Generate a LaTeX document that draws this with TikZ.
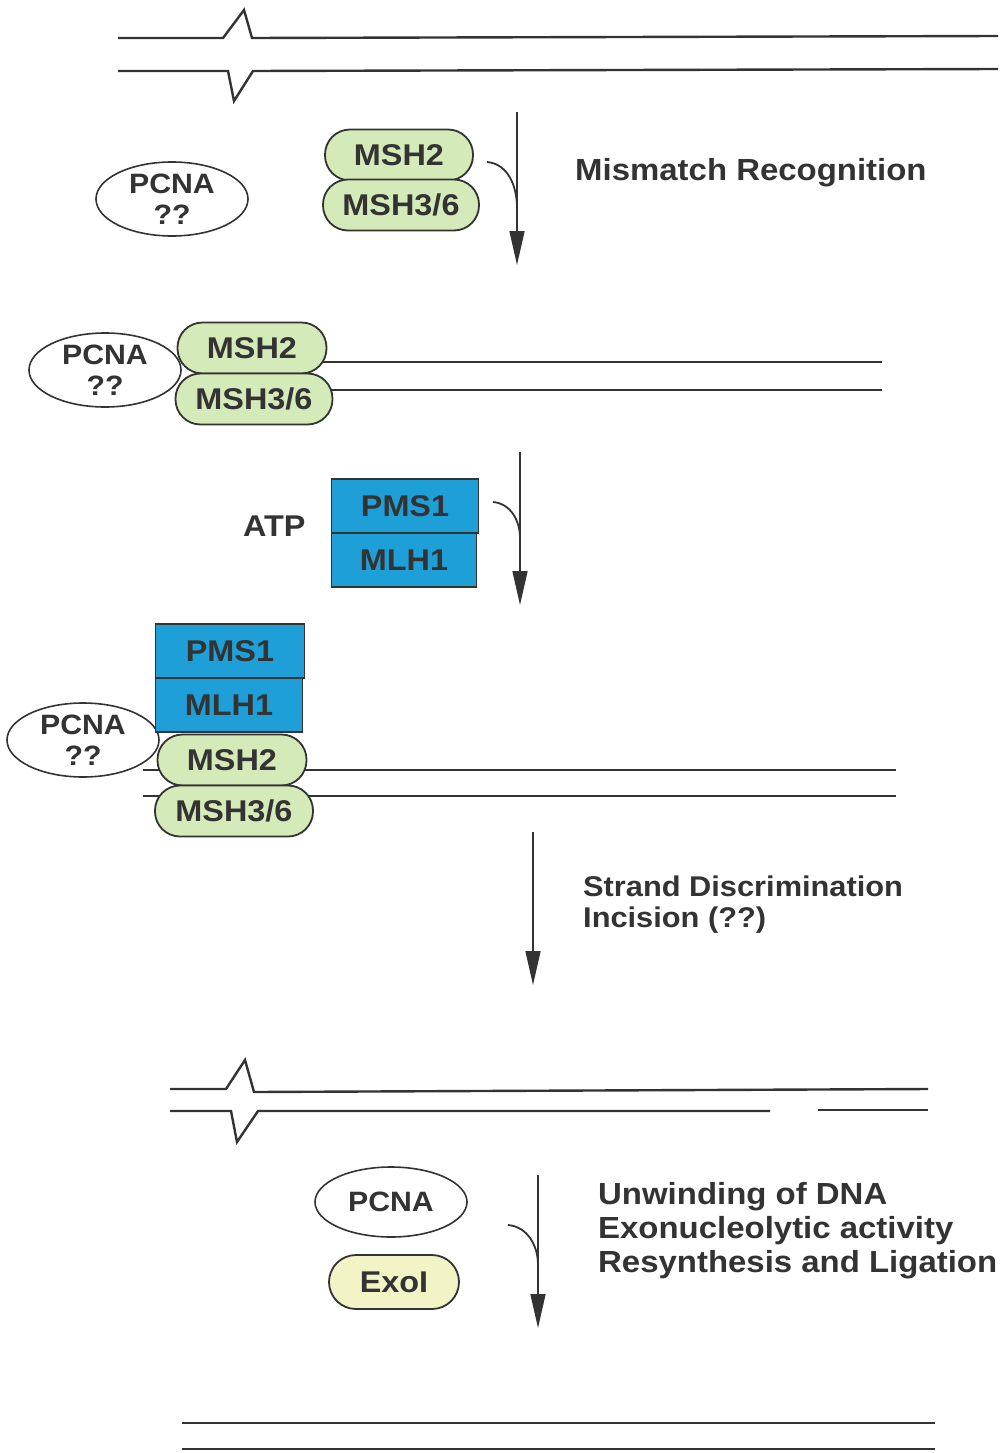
\documentclass[tikz,border=0pt]{standalone}
\usepackage{fontspec}
\setmainfont{Liberation Sans}[FakeStretch=1.08]
\usetikzlibrary{arrows.meta,shapes.geometric}
\definecolor{ink}{HTML}{333333}
\definecolor{mshgreen}{HTML}{D4EAB8}
\definecolor{mlhblue}{HTML}{1E9FD8}
\definecolor{exoyellow}{HTML}{F2F4C6}
\begin{document}
\begin{tikzpicture}[x=1pt,y=-1pt,
  lbl/.style={font=\fontsize{30}{32}\selectfont\bfseries, text=ink},
  capsule/.style={rectangle, draw=ink, line width=1.8pt, fill=mshgreen, rounded corners=25pt, inner sep=0pt, minimum height=51pt, lbl},
  pcna/.style={ellipse, draw=ink, line width=1.6pt, fill=white, inner sep=0pt, minimum width=152pt, minimum height=74pt, text=ink, align=center, font=\fontsize{28}{31}\selectfont\bfseries},
  boxb/.style={rectangle, draw=ink, line width=1.6pt, fill=mlhblue, inner sep=0pt, minimum height=54pt, lbl},
  dna/.style={draw=ink, line width=2.4pt, line join=miter},
  flow/.style={draw=ink, line width=1.6pt, -{Triangle[length=34pt,width=15pt]}},
  feed/.style={draw=ink, line width=1.8pt},
  step text/.style={lbl, anchor=base west, align=left, inner sep=0pt},
]
\useasboundingbox (0,0) rectangle (1005,1453);

% ---- top DNA with mismatch ----
\draw[dna] (118,38) -- (223,38) -- (244,10) -- (252,38) -- (998,36);
\draw[dna] (118,71) -- (228,71) -- (234,101) -- (253,71) -- (998,69);

% ---- step 1 ----
\node[pcna] (pcna1) at (172,199) {PCNA\\??};
\node[capsule, minimum width=148pt] (msh2a) at (399,155) {MSH2};
\node[capsule, minimum width=156pt] (msh36a) at (401,205) {MSH3/6};
\coordinate (a1s) at (517,112);
\coordinate (a1e) at (517,265);
\coordinate (a1m) at (517,208);
\coordinate (f1) at (487,162);
\draw[flow] (a1s) -- (a1e);
\draw[feed] (f1) to[out=-5,in=90] (a1m);
\node[step text, font=\fontsize{30.5}{34}\selectfont\bfseries] (t1) at (575,180) {Mismatch Recognition};

% ---- step 2: bound complex ----
\draw[dna] (300,362) -- (882,362);
\draw[dna] (300,390) -- (882,390);
\node[pcna] (pcna2) at (105,370) {PCNA\\??};
\node[capsule, minimum width=149pt] (msh2b) at (252,348) {MSH2};
\node[capsule, minimum width=157pt] (msh36b) at (254,399) {MSH3/6};

% ---- step 3: ATP + PMS1/MLH1 ----
\node[lbl, anchor=base west, inner sep=0pt] (atp) at (243,536) {ATP};
\node[boxb, minimum width=147pt] (pms1a) at (405,506) {PMS1};
\node[boxb, minimum width=145pt] (mlh1a) at (404,560) {MLH1};
\coordinate (a2s) at (520,452);
\coordinate (a2e) at (520,605);
\coordinate (a2m) at (520,538);
\coordinate (f2) at (493,502);
\draw[flow] (a2s) -- (a2e);
\draw[feed] (f2) to[out=-5,in=90] (a2m);

% ---- step 4: full complex ----
\draw[dna] (143,770) -- (896,770);
\draw[dna] (143,796) -- (896,796);
\node[pcna] (pcna3) at (83,740) {PCNA\\??};
\node[boxb, minimum width=149pt] (pms1b) at (230,651) {PMS1};
\node[boxb, minimum width=147pt] (mlh1b) at (229,705) {MLH1};
\node[capsule, minimum width=149pt] (msh2c) at (232,760) {MSH2};
\node[capsule, minimum width=158pt] (msh36c) at (234,811) {MSH3/6};

% ---- step 5 ----
\coordinate (a3s) at (533,832);
\coordinate (a3e) at (533,985);
\draw[flow] (a3s) -- (a3e);
\node[step text, font=\fontsize{28.5}{31}\selectfont\bfseries] (t3) at (583,927) {Strand Discrimination\\Incision (??)};

% ---- incised DNA ----
\draw[dna] (170,1089) -- (226,1089) -- (245,1060) -- (254,1092) -- (928,1089);
\draw[dna] (170,1111) -- (231,1111) -- (237,1142) -- (258,1111) -- (770,1111);
\draw[dna] (818,1110) -- (928,1110);

% ---- step 6 ----
\node[pcna, minimum height=70pt] (pcna4) at (391,1202) {PCNA};
\node[capsule, fill=exoyellow, minimum width=130pt, minimum height=54pt, rounded corners=27pt] (exo) at (394,1282) {ExoI};
\coordinate (a4s) at (538,1175);
\coordinate (a4e) at (538,1328);
\coordinate (a4m) at (538,1265);
\coordinate (f4) at (508,1225);
\draw[flow] (a4s) -- (a4e);
\draw[feed] (f4) to[out=-5,in=90] (a4m);
\node[step text, font=\fontsize{30.5}{34}\selectfont\bfseries] (t4) at (598,1272) {Unwinding of DNA\\Exonucleolytic activity\\Resynthesis and Ligation};

% ---- repaired DNA ----
\draw[dna] (182,1423) -- (935,1423);
\draw[dna] (182,1449) -- (935,1449);
\end{tikzpicture}
\end{document}
